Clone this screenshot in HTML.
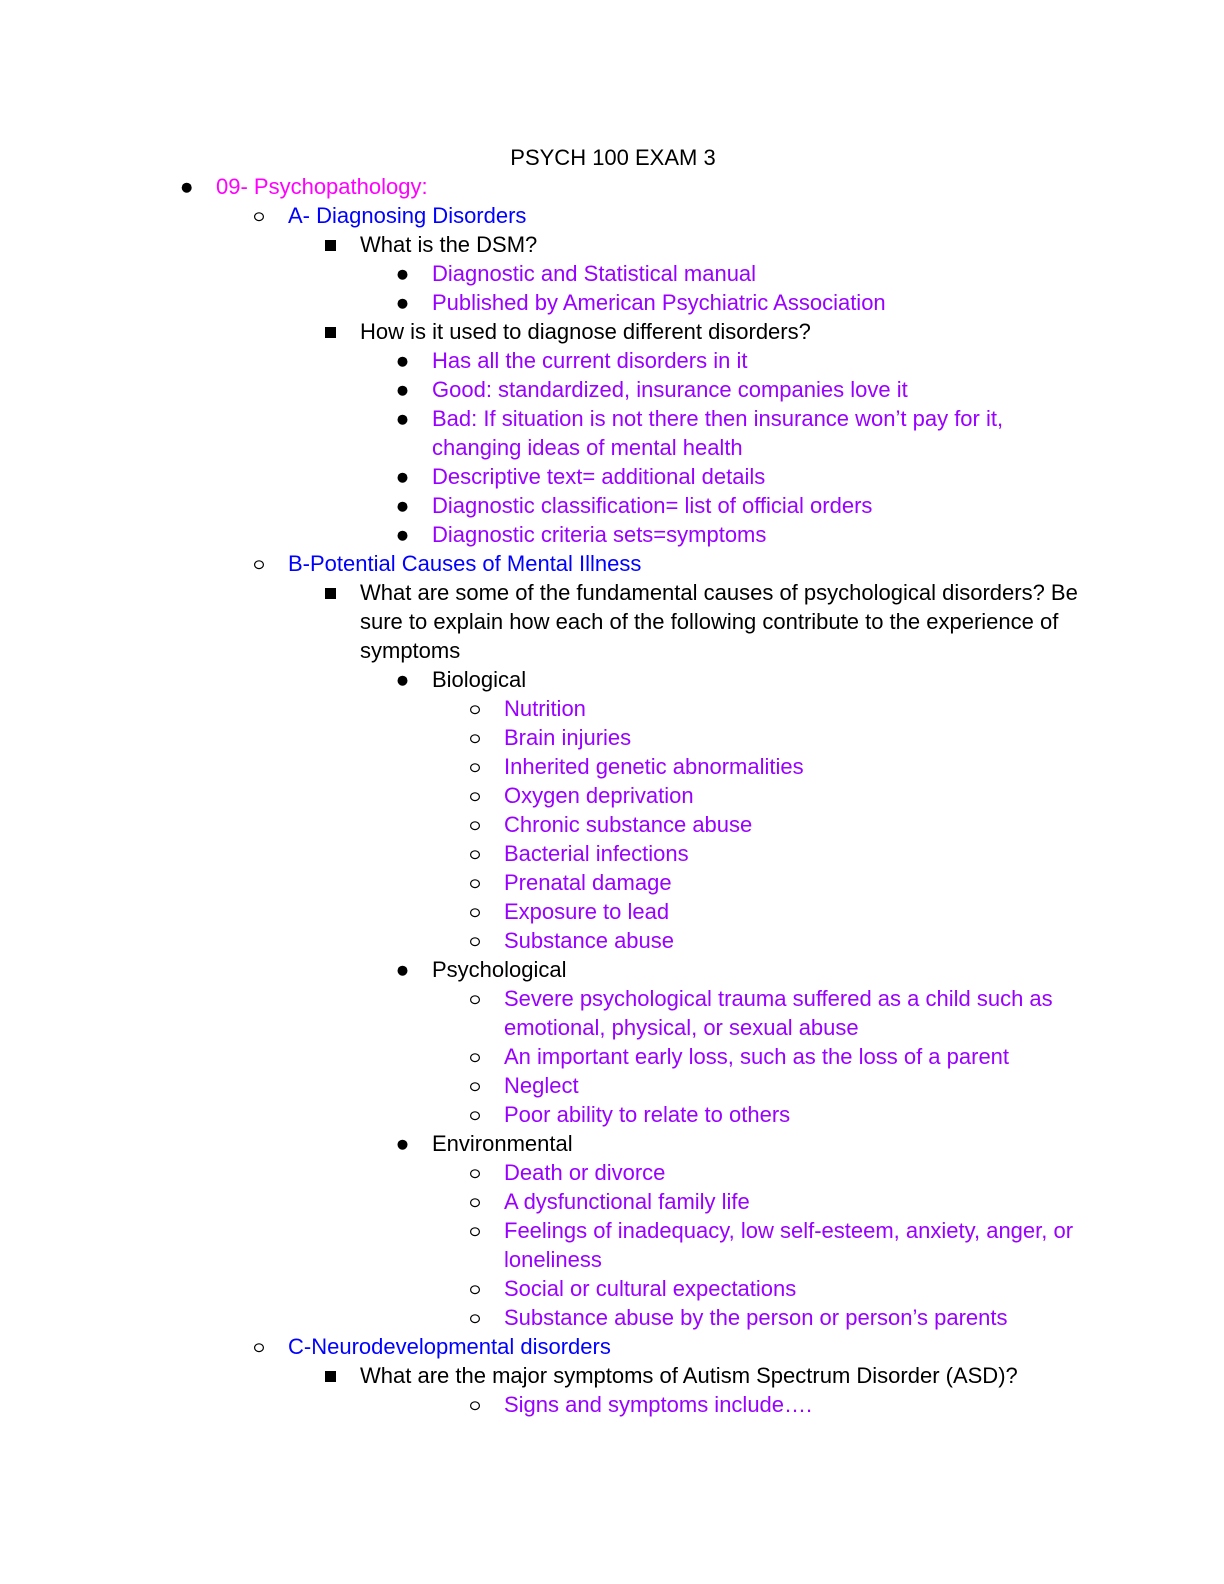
<!DOCTYPE html>
<html><head><meta charset="utf-8"><title>PSYCH 100 EXAM 3</title>
<style>
html,body{margin:0;padding:0;background:#fff;width:1224px;height:1584px;overflow:hidden}
svg{display:block}
text{font-family:"Liberation Sans",Arial,sans-serif;font-size:22px;white-space:pre}
.k{fill:#000}.m{fill:#ff00ff}.b{fill:#0000ff}.p{fill:#9900ff}
.d{fill:#000}.o{fill:#fff;stroke:#000;stroke-width:1.2}
</style></head><body>
<svg width="1224" height="1584" viewBox="0 0 1224 1584" xmlns="http://www.w3.org/2000/svg">
<text class="k" x="613" y="165" text-anchor="middle">PSYCH 100 EXAM 3</text>

<circle class="d" cx="186.7" cy="187.7" r="5"/><text class="m" x="216" y="194">09- Psychopathology:</text>
<ellipse class="o" cx="259" cy="216.7" rx="4.4" ry="3.9"/><text class="b" x="288" y="223">A- Diagnosing Disorders</text>
<rect class="d" x="325" y="240" width="11" height="11"/><text class="k" x="360" y="252">What is the DSM?</text>
<circle class="d" cx="402.5" cy="274.7" r="5"/><text class="p" x="432" y="281">Diagnostic and Statistical manual</text>
<circle class="d" cx="402.5" cy="303.7" r="5"/><text class="p" x="432" y="310">Published by American Psychiatric Association</text>
<rect class="d" x="325" y="327" width="11" height="11"/><text class="k" x="360" y="339">How is it used to diagnose different disorders?</text>
<circle class="d" cx="402.5" cy="361.7" r="5"/><text class="p" x="432" y="368">Has all the current disorders in it</text>
<circle class="d" cx="402.5" cy="390.7" r="5"/><text class="p" x="432" y="397">Good: standardized, insurance companies love it</text>
<circle class="d" cx="402.5" cy="419.7" r="5"/><text class="p" x="432" y="426">Bad: If situation is not there then insurance won’t pay for it,</text>
<text class="p" x="432" y="455">changing ideas of mental health</text>
<circle class="d" cx="402.5" cy="477.7" r="5"/><text class="p" x="432" y="484">Descriptive text= additional details</text>
<circle class="d" cx="402.5" cy="506.7" r="5"/><text class="p" x="432" y="513">Diagnostic classification= list of official orders</text>
<circle class="d" cx="402.5" cy="535.7" r="5"/><text class="p" x="432" y="542">Diagnostic criteria sets=symptoms</text>
<ellipse class="o" cx="259" cy="564.7" rx="4.4" ry="3.9"/><text class="b" x="288" y="571">B-Potential Causes of Mental Illness</text>
<rect class="d" x="325" y="588" width="11" height="11"/><text class="k" x="360" y="600">What are some of the fundamental causes of psychological disorders? Be</text>
<text class="k" x="360" y="629">sure to explain how each of the following contribute to the experience of</text>
<text class="k" x="360" y="658">symptoms</text>
<circle class="d" cx="402.5" cy="680.7" r="5"/><text class="k" x="432" y="687">Biological</text>

<ellipse class="o" cx="475" cy="709.7" rx="4.4" ry="3.9"/><text class="p" x="504" y="716">Nutrition</text>
<ellipse class="o" cx="475" cy="738.7" rx="4.4" ry="3.9"/><text class="p" x="504" y="745">Brain injuries</text>
<ellipse class="o" cx="475" cy="767.7" rx="4.4" ry="3.9"/><text class="p" x="504" y="774">Inherited genetic abnormalities</text>
<ellipse class="o" cx="475" cy="796.7" rx="4.4" ry="3.9"/><text class="p" x="504" y="803">Oxygen deprivation</text>
<ellipse class="o" cx="475" cy="825.7" rx="4.4" ry="3.9"/><text class="p" x="504" y="832">Chronic substance abuse</text>
<ellipse class="o" cx="475" cy="854.7" rx="4.4" ry="3.9"/><text class="p" x="504" y="861">Bacterial infections</text>
<ellipse class="o" cx="475" cy="883.7" rx="4.4" ry="3.9"/><text class="p" x="504" y="890">Prenatal damage</text>
<ellipse class="o" cx="475" cy="912.7" rx="4.4" ry="3.9"/><text class="p" x="504" y="919">Exposure to lead</text>
<ellipse class="o" cx="475" cy="941.7" rx="4.4" ry="3.9"/><text class="p" x="504" y="948">Substance abuse</text>
<circle class="d" cx="402.5" cy="970.7" r="5"/><text class="k" x="432" y="977">Psychological</text>
<ellipse class="o" cx="475" cy="999.7" rx="4.4" ry="3.9"/><text class="p" x="504" y="1006">Severe psychological trauma suffered as a child such as</text>
<text class="p" x="504" y="1035">emotional, physical, or sexual abuse</text>
<ellipse class="o" cx="475" cy="1057.7" rx="4.4" ry="3.9"/><text class="p" x="504" y="1064">An important early loss, such as the loss of a parent</text>
<ellipse class="o" cx="475" cy="1086.7" rx="4.4" ry="3.9"/><text class="p" x="504" y="1093">Neglect</text>
<ellipse class="o" cx="475" cy="1115.7" rx="4.4" ry="3.9"/><text class="p" x="504" y="1122">Poor ability to relate to others</text>
<circle class="d" cx="402.5" cy="1144.7" r="5"/><text class="k" x="432" y="1151">Environmental</text>
<ellipse class="o" cx="475" cy="1173.7" rx="4.4" ry="3.9"/><text class="p" x="504" y="1180">Death or divorce</text>
<ellipse class="o" cx="475" cy="1202.7" rx="4.4" ry="3.9"/><text class="p" x="504" y="1209">A dysfunctional family life</text>
<ellipse class="o" cx="475" cy="1231.7" rx="4.4" ry="3.9"/><text class="p" x="504" y="1238">Feelings of inadequacy, low self-esteem, anxiety, anger, or</text>
<text class="p" x="504" y="1267">loneliness</text>
<ellipse class="o" cx="475" cy="1289.7" rx="4.4" ry="3.9"/><text class="p" x="504" y="1296">Social or cultural expectations</text>
<ellipse class="o" cx="475" cy="1318.7" rx="4.4" ry="3.9"/><text class="p" x="504" y="1325">Substance abuse by the person or person’s parents</text>
<ellipse class="o" cx="259" cy="1347.7" rx="4.4" ry="3.9"/><text class="b" x="288" y="1354">C-Neurodevelopmental disorders</text>
<rect class="d" x="325" y="1371" width="11" height="11"/><text class="k" x="360" y="1383">What are the major symptoms of Autism Spectrum Disorder (ASD)?</text>
<ellipse class="o" cx="475" cy="1405.7" rx="4.4" ry="3.9"/><text class="p" x="504" y="1412">Signs and symptoms include….</text>
</svg>
</body></html>
